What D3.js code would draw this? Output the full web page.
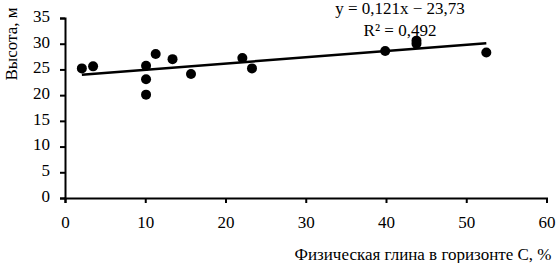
<!DOCTYPE html>
<html>
<head>
<meta charset="utf-8">
<script src="https://cdn.jsdelivr.net/npm/d3@7"></script>
<style>
  body { margin: 0; background: #fff; }
</style>
</head>
<body>
<svg id="chart"></svg>
<script>
// Физическая глина (%) и высота (м)
const clay = [2.1, 3.5, 10.1, 10.1, 10.1, 11.3, 13.4, 15.7, 22.1, 23.3, 39.9, 43.8, 43.8, 52.5];
const heightM = [25.2, 25.6, 25.7, 23.1, 20.1, 28.0, 27.0, 24.1, 27.2, 25.2, 28.6, 30.6, 30.0, 28.3];
const xTicks = [0, 10, 20, 30, 40, 50, 60];
const yTicks = [0, 5, 10, 15, 20, 25, 30, 35];
const trend = { slope: 0.121, intercept: 23.73 };
const eqText = "y = 0,121x − 23,73";
const r2Text = "R² = 0,492";

const FONT = "Liberation Serif";
const width = 559, height = 263;
const svg = d3.select("#chart").attr("width", width).attr("height", height)
  .attr("font-family", FONT);

const x = d3.scaleLinear().domain([0, 60]).range([65, 546.5]);
const y = d3.scaleLinear().domain([0, 35]).range([198, 18]);

// оси
const gx = svg.append("g")
  .attr("transform", `translate(0,${y(0)})`)
  .call(d3.axisBottom(x).tickValues(xTicks).tickSize(5).tickPadding(13).tickFormat(d3.format("d")));
const gy = svg.append("g")
  .attr("transform", `translate(${x(0)},0)`)
  .call(d3.axisLeft(y).tickValues(yTicks).tickSize(5).tickPadding(10).tickFormat(d3.format("d")));

[gx, gy].forEach(g => {
  g.attr("font-family", FONT).attr("font-size", 17);
  g.select(".domain").attr("stroke", "#000").attr("stroke-width", 2);
  g.selectAll(".tick line").attr("stroke", "#000").attr("stroke-width", 2);
  g.selectAll("text").attr("fill", "#000");
});
gy.selectAll(".tick text").attr("dy", "0.2em");

// линия тренда
const x0 = d3.min(clay), x1 = d3.max(clay);
svg.append("line")
  .attr("x1", x(x0)).attr("y1", y(trend.slope * x0 + trend.intercept))
  .attr("x2", x(x1)).attr("y2", y(trend.slope * x1 + trend.intercept))
  .attr("stroke", "#000").attr("stroke-width", 2.5);

// точки
svg.selectAll("circle")
  .data(clay)
  .enter()
  .append("circle")
  .attr("cx", d => x(d))
  .attr("cy", (d, i) => y(heightM[i]))
  .attr("r", 5)
  .attr("fill", "#000");

// уравнение
svg.append("text").attr("x", 400).attr("y", 14).attr("text-anchor", "middle")
  .attr("font-size", 17).text(eqText);
svg.append("text").attr("x", 400).attr("y", 36).attr("text-anchor", "middle")
  .attr("font-size", 17).text(r2Text);

// подписи осей
svg.append("text")
  .attr("transform", "translate(17,44) rotate(-90)")
  .attr("text-anchor", "middle")
  .attr("font-size", 17)
  .text("Высота, м");
svg.append("text")
  .attr("x", 423).attr("y", 260)
  .attr("text-anchor", "middle")
  .attr("font-size", 17)
  .text("Физическая глина в горизонте С, %");
</script>
</body>
</html>
